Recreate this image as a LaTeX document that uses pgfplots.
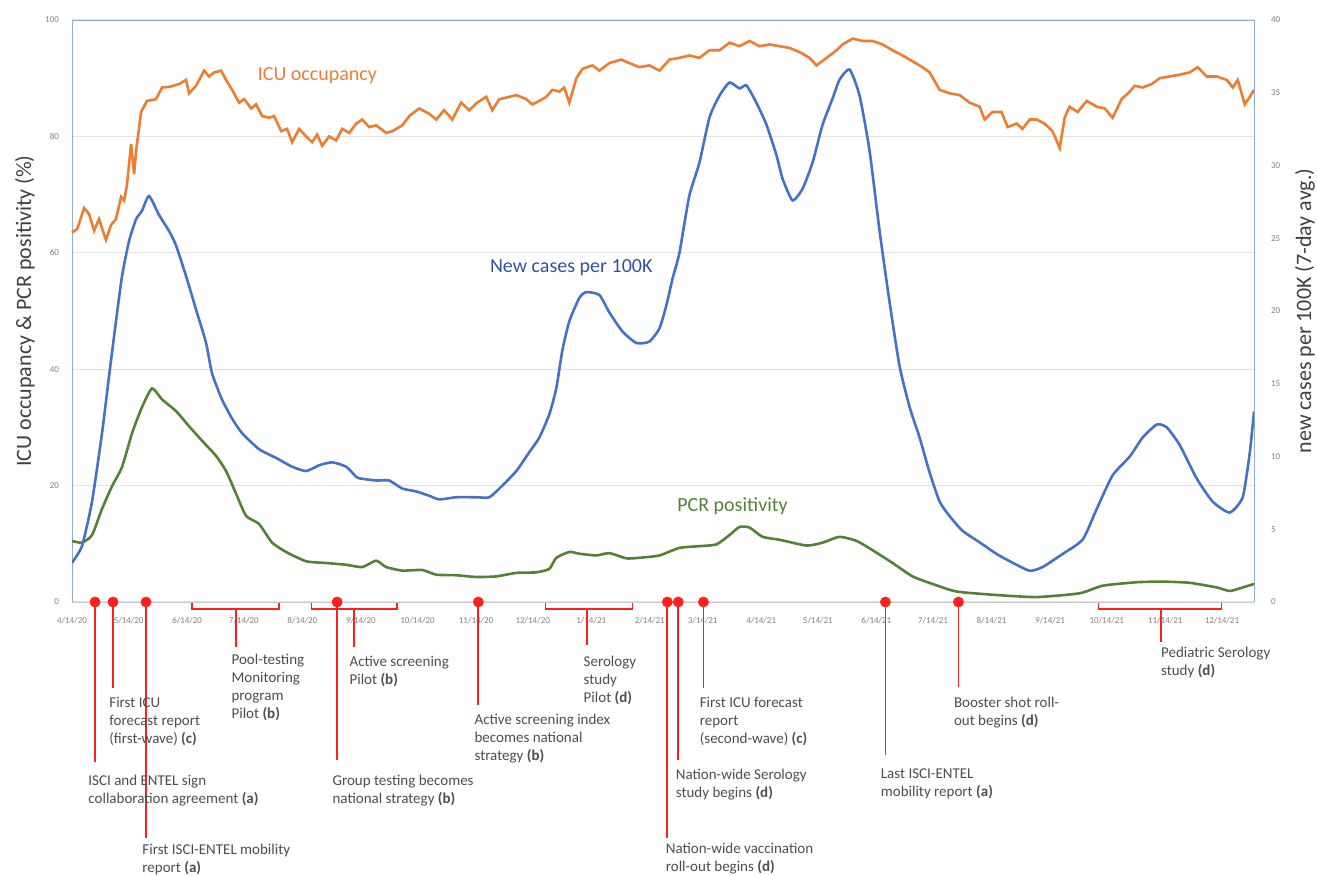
\documentclass[border=0pt]{standalone}
\usepackage{fontspec}
\setmainfont{Carlito}
\usepackage{pgfplots}
\pgfplotsset{compat=1.18}

\definecolor{icu}{HTML}{ED7D31}
\definecolor{cases}{HTML}{4472C4}
\definecolor{casestext}{HTML}{2F5597}
\definecolor{pcr}{HTML}{548235}
\definecolor{frameblue}{HTML}{8FAADC}
\definecolor{gridgray}{HTML}{E3E3E3}
\definecolor{axisgray}{HTML}{C8C8C8}
\definecolor{tickgray}{HTML}{7F7F7F}
\definecolor{labgray}{HTML}{404040}
\definecolor{annred}{HTML}{FF1F1F}
\definecolor{anngray}{HTML}{4D4D4D}

\pgfplotsset{
  common/.style={
    scale only axis, width=591pt, height=291pt,
    xmin=0, xmax=626,
    major tick length=0pt,
    tick label style={font=\fontsize{4.5}{5}\selectfont, text=tickgray},
    /pgf/number format/assume math mode=true,
  },
}

\begin{document}
\begin{tikzpicture}[font=\fontsize{7.5}{9}\selectfont]
% left axis: ICU occupancy and PCR positivity (%)
\begin{axis}[common,
  ymin=0, ymax=100,
  axis x line*=bottom, axis y line*=left,
  x axis line style={draw=axisgray, -},
  y axis line style={draw=frameblue, -},
  xtick={0,30,61,91,122,153,183,214,244,275,306,334,365,395,426,456,487,518,548,579,609},
  xticklabels={4/14/20,5/14/20,6/14/20,7/14/20,8/14/20,9/14/20,10/14/20,11/14/20,12/14/20,1/14/21,2/14/21,3/14/21,4/14/21,5/14/21,6/14/21,7/14/21,8/14/21,9/14/21,10/14/21,11/14/21,12/14/21},
  xticklabel style={yshift=-4pt},
  ytick={0,20,...,100},
  yticklabel style={xshift=-3pt},
  ymajorgrids, grid style={gridgray, line width=0.6pt},
  ylabel={ICU occupancy \& PCR positivity (\%)},
  ylabel style={at={(axis description cs:-0.0398,0.5)}, anchor=center,
    font=\fontsize{11}{13}\selectfont, text=labgray},
  clip=false,
]
% ICU occupancy
\addplot[icu, line width=1.3pt] coordinates {
(0,63.5)(2.8,64.1)(6.4,67.7)(9,66.7)(11.7,63.8)(14.3,65.8)(18,62.2)(20.7,64.8)(23.3,65.8)(26,69.6)
(27.6,69.0)(29.1,71.6)(31.3,78.7)(32.9,73.5)(33.9,77.4)(36.6,84.2)(39.7,86.1)(44.5,86.4)(47.7,88.4)
(51.4,88.5)(56.7,89.0)(60.4,89.7)(62,87.4)(65.7,88.7)(70,91.3)(72.6,90.3)(75.3,91.0)(79,91.3)
(81.6,89.7)(84.8,88.0)(88.5,85.8)(91.2,86.4)(94.9,84.8)(97.5,85.5)(100.7,83.5)(104.4,83.2)(107,83.5)
(110.8,80.9)(113.9,81.3)(116.6,79.0)(120.3,81.3)(124,80.0)(127.2,79.0)(129.8,80.3)(132.5,78.4)
(136.2,80.0)(139.9,79.3)(143.1,81.3)(146.8,80.6)(150.5,82.2)(153.7,82.9)(157.4,81.6)(161.1,81.9)
(166.4,80.6)(169.6,80.9)(174.9,81.9)(178.6,83.5)(183.9,84.8)(189.2,83.9)(192.9,82.9)(197.1,84.5)
(201.4,82.9)(206.1,85.8)(210.4,84.5)(214.6,85.8)(219.4,86.8)(222.6,84.5)(226.3,86.4)(231.6,86.8)
(235.3,87.1)(240.6,86.4)(243.8,85.5)(247.5,86.1)(251.2,86.8)(254.4,88.0)(258.1,87.7)(260.7,88.4)
(263.4,85.8)(267.1,90.0)(270.3,91.6)(275.6,92.2)(279.3,91.3)(284.6,92.6)(290.9,93.2)(295.2,92.6)
(300.5,91.9)(305.8,92.2)(311.1,91.3)(316.4,93.2)(321.7,93.5)(326.9,93.9)(332.3,93.5)(337.6,94.8)
(342.9,94.8)(348.2,96.1)(353.5,95.5)(358.8,96.4)(364.1,95.5)(369.4,95.8)(374.7,95.5)(380,95.2)
(385.3,94.5)(390.6,93.5)(394.3,92.2)(399.6,93.5)(404.9,94.8)(408.1,95.8)(413.4,96.8)(418.7,96.4)
(424,96.4)(429.3,95.8)(434.6,94.8)(439.9,93.9)(445.2,92.9)(450.4,91.9)(454.2,91.0)(459.5,88.0)
(464.8,87.4)(470.1,87.1)(475.4,85.8)(480.7,85.1)(483.3,82.9)(487.5,84.2)(492.3,84.2)(495.5,81.6)
(500.3,82.2)(503.4,81.3)(507.2,82.9)(510.9,82.9)(515.1,82.2)(519.3,80.9)(523.1,78.0)(525.7,83.2)
(528.3,85.1)(532.6,84.2)(537.4,86.1)(542.7,85.1)(547,84.8)(551.1,83.2)(555.9,86.4)(560.2,87.7)
(562.8,88.7)(567,88.4)(571.8,89.0)(576,90.0)(581.3,90.3)(586.6,90.6)(591.9,91.0)(596.2,91.9)
(600.9,90.3)(606.3,90.3)(611.6,89.7)(614.8,88.4)(617.4,89.7)(621.1,85.5)(623.8,86.8)(626,88.0)
};
% PCR positivity
\addplot[pcr, line width=1.3pt, smooth, tension=0.35] coordinates {
(0,10.5)(5.3,10.2)(10.6,11.5)(15.9,16.0)(21.2,19.9)(26.5,23.2)(31.8,29.0)(37.1,33.5)(42.4,36.7)
(47.7,34.8)(55.1,32.8)(62,30.2)(68.9,27.7)(76.3,25.1)(81.6,22.5)(86.9,18.6)(92.2,14.8)(99.1,13.4)
(106,10.2)(113.4,8.6)(124,7.0)(134.6,6.7)(145.2,6.4)(153.7,6.0)(161.1,7.1)(166.4,6.0)(174.9,5.4)
(185.5,5.5)(192.9,4.7)(203.5,4.6)(214.1,4.3)(224.7,4.4)(235.3,5.0)(245.9,5.1)(252.8,5.7)(256.5,7.6)
(263.4,8.6)(268.7,8.3)(277.7,8.0)(284.6,8.4)(293.6,7.5)(300.5,7.6)(311.1,8.0)(321.7,9.3)(332.3,9.6)
(341.3,9.9)(348.2,11.5)(353.5,12.9)(358.8,12.8)(365.7,11.2)(374.7,10.7)(389,9.7)(397.5,10.2)
(406.5,11.2)(415.5,10.5)(424,8.9)(434.6,6.7)(445.2,4.4)(455.8,3.1)(468.5,1.8)(489.7,1.2)(510.9,0.85)
(533.7,1.5)(545.8,2.8)(563.9,3.4)(577.6,3.5)(591.9,3.3)(606.3,2.5)(613.1,1.9)(620,2.5)(626,3.1)
};
% event dates
\addplot[only marks, mark=*, mark size=2.5pt, annred] coordinates {
(12.2,0)(21.7,0)(39.2,0)(140.4,0)(215.2,0)(315.3,0)(321.1,0)(334.4,0)(430.8,0)(469.5,0)
};

\node[text=icu, font=\fontsize{10}{12}\selectfont] at (130,90.5) {ICU occupancy};
\node[text=casestext, font=\fontsize{10}{12}\selectfont] at (264.4,57.4) {New cases per 100K};
\node[text=pcr, font=\fontsize{10}{12}\selectfont] at (349.8,16.5) {PCR positivity};

\begin{scope}[annred, line width=0.9pt]
  \draw (12.2,0) -- (12.2,-27.5);
  \draw (21.7,0) -- (21.7,-14.8);
  \draw (39.2,0) -- (39.2,-40.5);
  \draw (140.4,0) -- (140.4,-27.1);
  \draw (215.2,0) -- (215.2,-17.7);
  \draw (315.3,0) -- (315.3,-40.5);
  \draw (321.1,0) -- (321.1,-27.1);
  \draw (334.4,0) -- (334.4,-14.8);
  \draw (430.8,0) -- (430.8,-26.3);
  \draw (469.5,0) -- (469.5,-14.6);
  \draw (86.9,-1.2) -- (86.9,-7.7);
  \draw (149.4,-1.2) -- (149.4,-7.7);
  \draw (272.9,-1.2) -- (272.9,-7.4);
  \draw (576.6,-1.2) -- (576.6,-6.9);
\end{scope}
\begin{scope}[annred, line width=0.7pt]
  \draw (63.6,-0.2) |- (109.7,-1.2) -- (109.7,-0.2);
  \draw (126.7,-0.2) |- (172.2,-1.2) -- (172.2,-0.2);
  \draw (250.7,-0.2) |- (296.8,-1.2) -- (296.8,-0.2);
  \draw (543.7,-0.2) |- (608.9,-1.2) -- (608.9,-0.2);
\end{scope}

\begin{scope}[every node/.style={anchor=north west, align=left, inner sep=0pt, text=anngray}]
  \node at (8.5,-29.6) {ISCI and ENTEL sign\\collaboration agreement \textbf{(a)}};
  \node at (19.6,-16.3) {First ICU\\forecast report\\(first-wave) \textbf{(c)}};
  \node at (37.1,-41.6) {First ISCI-ENTEL mobility\\report \textbf{(a)}};
  \node at (84.3,-8.9) {Pool-testing\\Monitoring\\program\\Pilot \textbf{(b)}};
  \node at (137.8,-29.6) {Group testing becomes\\national strategy \textbf{(b)}};
  \node at (146.8,-9.3) {Active screening\\Pilot \textbf{(b)}};
  \node at (213,-19.2) {Active screening index\\becomes national\\strategy \textbf{(b)}};
  \node at (270.8,-9.3) {Serology\\study\\Pilot \textbf{(d)}};
  \node at (314.3,-41.4) {Nation-wide vaccination\\roll-out begins \textbf{(d)}};
  \node at (319.6,-28.7) {Nation-wide Serology\\study begins \textbf{(d)}};
  \node at (332.3,-16.2) {First ICU forecast\\report\\(second-wave) \textbf{(c)}};
  \node at (428.2,-28.5) {Last ISCI-ENTEL\\mobility report \textbf{(a)}};
  \node at (466.9,-16.2) {Booster shot roll-\\out begins \textbf{(d)}};
  \node at (576.6,-7.7) {Pediatric Serology\\study \textbf{(d)}};
\end{scope}
\end{axis}

% right axis: new cases per 100K
\begin{axis}[common,
  ymin=0, ymax=40,
  axis x line*=top, axis y line*=right,
  axis line style={draw=frameblue, -},
  xtick=\empty,
  ytick={0,5,...,40},
  yticklabel style={xshift=5pt},
  ylabel={new cases per 100K (7-day avg.)},
  ylabel style={at={(axis description cs:1.0431,0.5)}, anchor=center,
    font=\fontsize{11}{13}\selectfont, text=labgray},
]
\addplot[cases, line width=1.3pt, smooth, tension=0.35] coordinates {
(0,2.7)(5.3,3.85)(10.6,6.9)(15.9,11.6)(19.6,15.5)(23.3,19.3)(26.5,22.4)(30.2,24.8)(33.9,26.3)
(37.1,26.9)(40.8,27.9)(46.1,26.6)(51.4,25.5)(55.1,24.5)(60.4,22.4)(65.7,20.1)(71,17.8)(74.2,15.7)
(79.5,13.9)(84.8,12.6)(90.1,11.6)(99.1,10.5)(108.1,9.9)(116.6,9.3)(124,9.0)(130.9,9.4)(137.8,9.6)
(145.2,9.3)(150.5,8.6)(152.1,8.5)(161.1,8.35)(168,8.35)(174.9,7.8)(182.3,7.6)(189.2,7.3)(194.5,7.05)
(203.5,7.2)(214.1,7.2)(221,7.2)(227.9,8.0)(235.3,9.0)(242.2,10.3)(247.5,11.3)(252.8,12.9)(256.5,14.7)
(259.7,17.3)(263.4,19.3)(268.7,20.9)(272.4,21.3)(279.3,21.1)(284.6,19.9)(291.5,18.6)(298.9,17.8)
(305.8,17.9)(311.1,18.8)(314.8,20.4)(318,22.2)(321.7,24.0)(326.9,27.9)(332.3,30.2)(337.6,33.3)
(342.9,34.8)(348.2,35.7)(353.5,35.3)(357.2,35.5)(362.5,34.3)(367.8,32.8)(373.1,30.7)(376.3,29.1)
(381.6,27.6)(386.9,28.4)(392.2,30.2)(397.5,32.8)(402.8,34.6)(406.5,35.9)(411.8,36.6)(417.1,34.8)
(422.4,31.0)(427.7,25.5)(433,20.6)(438.3,16.2)(443.6,13.4)(448.9,11.3)(454.2,8.9)(459.5,6.9)
(464.8,5.9)(471.6,4.9)(480.7,4.1)(489.7,3.3)(498.1,2.7)(507.2,2.15)(514,2.4)(524.6,3.3)(535.3,4.3)
(542.7,6.4)(551.1,8.7)(560.2,10.0)(567,11.3)(574.5,12.2)(579.8,12.0)(586.6,10.8)(595.6,8.5)
(604.1,6.9)(613.1,6.15)(620,7.2)(623.8,10.3)(626,13.1)
};
\end{axis}
\pgfresetboundingbox
\path[use as bounding box] (-36pt,-136.5pt) rectangle (622.5pt,301pt);
\end{tikzpicture}
\end{document}
